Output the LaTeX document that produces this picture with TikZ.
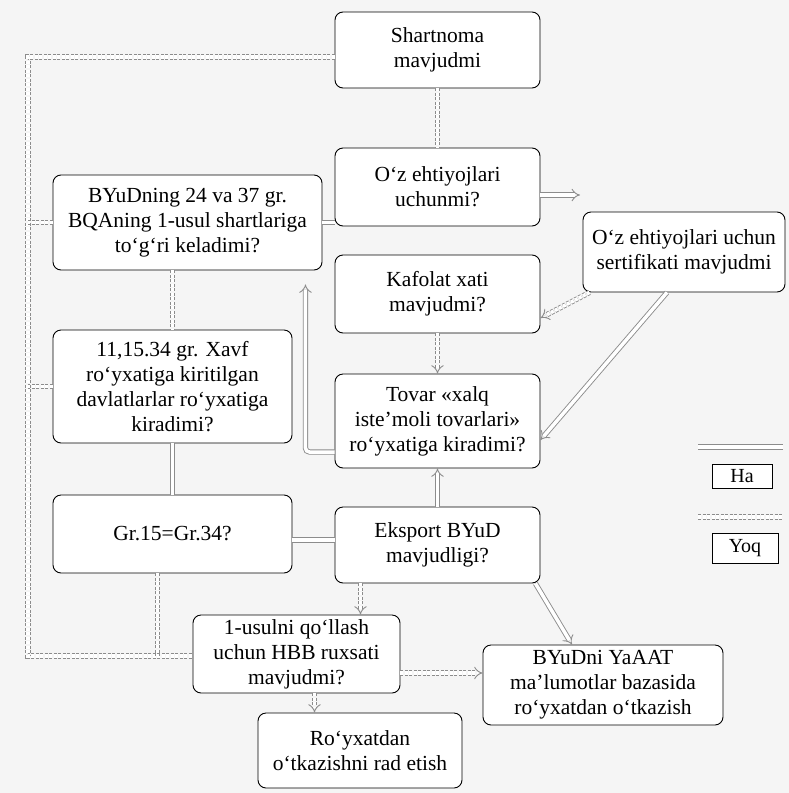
\documentclass[tikz,border=0pt]{standalone}
\usepackage{fontspec}
\setmainfont{Liberation Serif}
\usepackage{tikz}
\usetikzlibrary{arrows.meta}
\definecolor{paper}{gray}{0.96}
\definecolor{link}{gray}{0.55}
\tikzstyle{block} = [draw=black, fill=white, line width=0.9pt, rounded corners=8pt, align=center, inner sep=2pt, font=\fontsize{21.5}{25}\selectfont]
\tikzstyle{legend} = [draw=black, fill=white, line width=0.9pt, align=center, inner sep=1pt, font=\fontsize{20}{22}\selectfont]
\tikzstyle{haline} = [draw=link, line width=0.9pt, double=white, double distance=3.5pt]
\tikzstyle{yoqline} = [haline, dash pattern=on 3pt off 1.5pt]

\begin{document}
\begin{tikzpicture}[x=1pt, y=-1pt]
  \fill[paper] (0,0) rectangle (789,793);

  % middle column
  \node[block, minimum width=205pt, minimum height=76pt] (shart) at (437.5,50) {Shartnoma\\mavjudmi};
  \node[block, minimum width=205pt, minimum height=78pt] (ozeh) at (437.5,187) {O‘z ehtiyojlari\\uchunmi?};
  \node[block, minimum width=205pt, minimum height=78pt] (kafolat) at (437.5,294) {Kafolat xati\\mavjudmi?};
  \node[block, minimum width=205pt, minimum height=94pt] (tovar) at (437.5,421) {Tovar «xalq\\iste’moli tovarlari»\\ro‘yxatiga kiradimi?};
  \node[block, minimum width=205pt, minimum height=76pt] (eksport) at (437.5,545) {Eksport BYuD\\mavjudligi?};

  % left column
  \node[block, minimum width=269pt, minimum height=95pt] (byud) at (187.5,222.5) {BYuDning 24 va 37 gr.\\BQAning 1-usul shartlariga\\to‘g‘ri keladimi?};
  \node[block, minimum width=239pt, minimum height=113pt] (xavf) at (172.5,386.5) {11,15.34 gr. Xavf\\ro‘yxatiga kiritilgan\\davlatlarlar ro‘yxatiga\\kiradimi?};
  \node[block, minimum width=239pt, minimum height=78pt] (gr) at (172.5,534) {Gr.15=Gr.34?};

  % right and bottom
  \node[block, minimum width=202pt, minimum height=80pt] (sert) at (684,252) {O‘z ehtiyojlari uchun\\sertifikati mavjudmi};
  \node[block, minimum width=207pt, minimum height=78pt] (usul) at (296.5,654) {1-usulni qo‘llash\\uchun HBB ruxsati\\mavjudmi?};
  \node[block, minimum width=240pt, minimum height=80pt] (yaaat) at (603,685) {BYuDni YaAAT\\ma’lumotlar bazasida\\ro‘yxatdan o‘tkazish};
  \node[block, minimum width=204pt, minimum height=75pt] (rad) at (360,750.5) {Ro‘yxatdan\\o‘tkazishni rad etish};

  % legend
  \coordinate (haA) at (698,447);
  \coordinate (haB) at (783,447);
  \coordinate (yoqA) at (698,517);
  \coordinate (yoqB) at (783,517);
  \draw[haline] (haA) -- (haB);
  \node[legend, minimum width=60pt, minimum height=24pt] (ha) at (742,476) {Ha};
  \draw[yoqline] (yoqA) -- (yoqB);
  \node[legend, minimum width=66pt, minimum height=30pt] (yoq) at (745,548) {Yoq};

  % left bus
  \coordinate (bustop) at (28,57);
  \coordinate (busbot) at (28,656);
  \draw[yoqline] ([yshift=-7pt]shart.west) -- (bustop) -- (busbot) -- (usul.west |- busbot);
  \draw[yoqline] (byud.west) -- (bustop |- byud.west);
  \draw[yoqline] (xavf.west) -- (bustop |- xavf.west);
  \coordinate (grdown) at ([xshift=-15pt]gr.south);
  \draw[yoqline] (grdown) -- (grdown |- busbot);

  % connectors
  \coordinate (ozehout) at (580,195);
  \draw[yoqline] (shart) -- (ozeh);
  \draw[haline,-{Implies}] ([yshift=-8pt]ozeh.east) -- (ozehout);
  \draw[haline] (byud.east) -- (ozeh.west |- byud.east);
  \draw[haline,-{Implies},rounded corners=4pt] ([yshift=-31pt]tovar.west) -| ([xshift=-17pt,yshift=-14pt]byud.south east);
  \draw[yoqline,-{Implies}] (kafolat) -- (tovar);
  \draw[yoqline,-{Implies}] ([xshift=7pt]sert.south west) -- ([yshift=-24pt]kafolat.east);
  \draw[haline,-{Implies}] ([xshift=-17pt]sert.south) -- ([yshift=-19pt]tovar.east);
  \draw[yoqline] (xavf.north |- byud.south) -- (xavf.north);
  \draw[haline] (xavf) -- (gr);
  \coordinate (grout) at ([yshift=-6pt]gr.east);
  \draw[haline] (grout) -- (eksport.west |- grout);
  \draw[haline,-{Implies}] (eksport) -- (tovar);
  \draw[haline,-{Implies}] ([xshift=-5pt]eksport.south east) -- ([xshift=-31pt]yaaat.north);
  \coordinate (eksdown) at ([xshift=-77pt]eksport.south);
  \draw[yoqline,-{Implies}] (eksdown) -- (usul.north -| eksdown);
  \coordinate (usulout) at ([yshift=-19pt]usul.east);
  \draw[yoqline,-{Implies}] (usulout) -- (yaaat.west |- usulout);
  \coordinate (usuldown) at ([xshift=18pt]usul.south);
  \draw[yoqline,-{Implies}] (usuldown) -- (rad.north -| usuldown);

\end{tikzpicture}
\end{document}
